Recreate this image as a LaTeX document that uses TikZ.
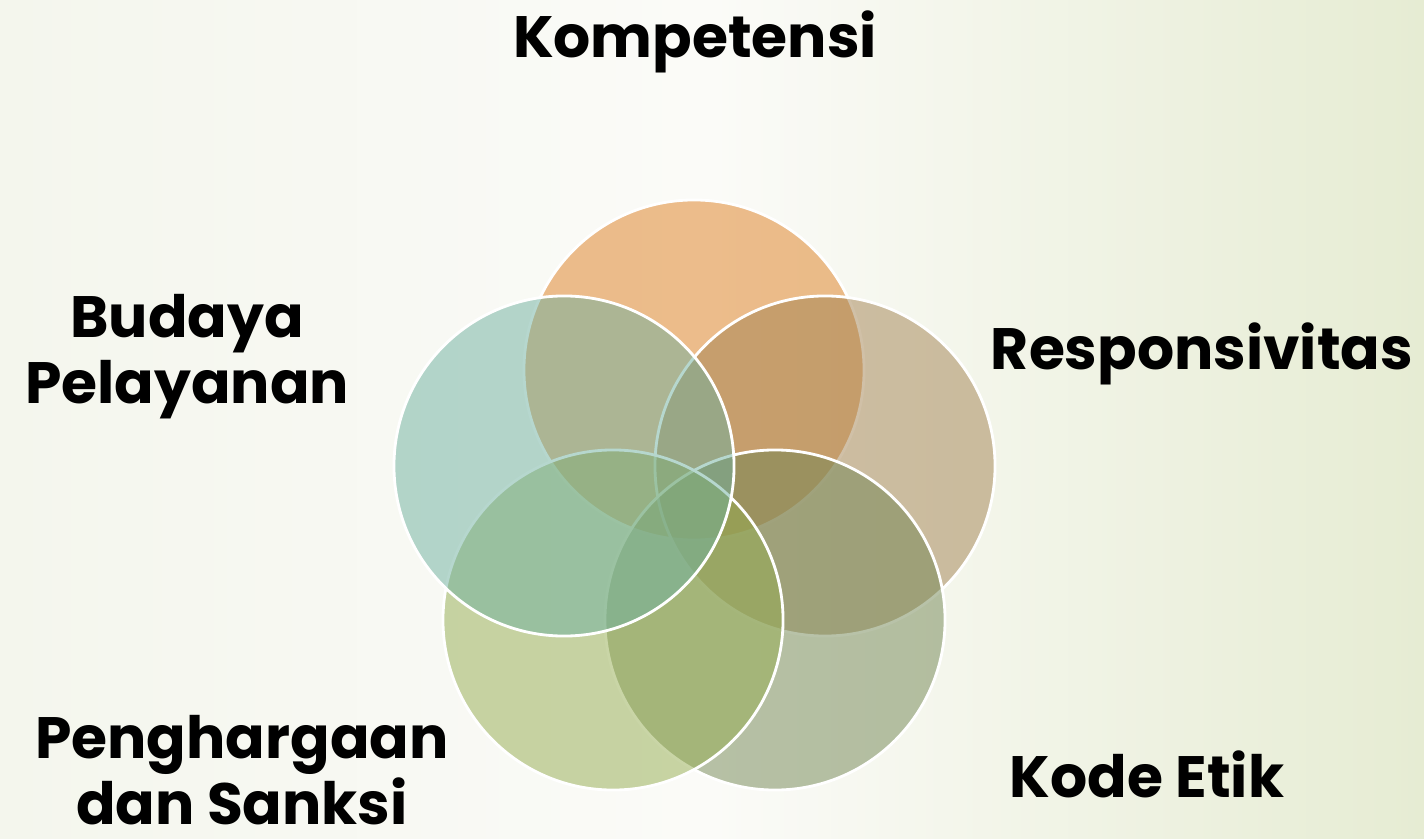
\documentclass[tikz,border=0pt]{standalone}
\usepackage{fontspec}
\setmainfont{Poppins}
\usepackage{tikz}
\usetikzlibrary{positioning,calc}

\definecolor{bgwhite}{RGB}{251,251,248}
\definecolor{bgleft}{RGB}{244,246,237}
\definecolor{bgright}{RGB}{230,236,211}
\definecolor{kompC}{RGB}{222,126,31}
\definecolor{respC}{RGB}{162,130,81}
\definecolor{kodeC}{RGB}{114,134,83}
\definecolor{pengC}{RGB}{148,172,79}
\definecolor{budC}{RGB}{110,176,159}

\begin{document}
\begin{tikzpicture}[
  x=0.025cm, y=-0.025cm,
  venn/.style={draw=white, line width=2pt, fill opacity=0.5},
  lbl/.style={font=\fontsize{41.5}{47}\selectfont\bfseries, text=black,
              align=center, inner sep=0pt},
]
% Background
\useasboundingbox (0,0) rectangle (1424,839);
\shade[left color=bgleft, right color=bgright, middle color=bgwhite]
  (0,0) rectangle (1424,839);

% Circles (top, right, bottom right, bottom left, left)
\draw[venn, fill=kompC] (694,370) circle[radius=4.25cm];
\draw[venn, fill=respC] (825,466) circle[radius=4.25cm];
\draw[venn, fill=kodeC] (775,620) circle[radius=4.25cm];
\draw[venn, fill=pengC] (613,620) circle[radius=4.25cm];
\draw[venn, fill=budC]  (564,466) circle[radius=4.25cm];

% Labels
\node[lbl] (komp) at (695,42)  {Kompetensi};
\node[lbl] (bud)  at (187,357) {Budaya\\Pelayanan};
\node[lbl] (resp) at (1202,354) {Responsivitas};
\node[lbl] (peng) at (242,770) {Penghargaan\\dan Sanksi};
\node[lbl] (kode) at (1147,774) {Kode Etik};
\end{tikzpicture}
\end{document}
